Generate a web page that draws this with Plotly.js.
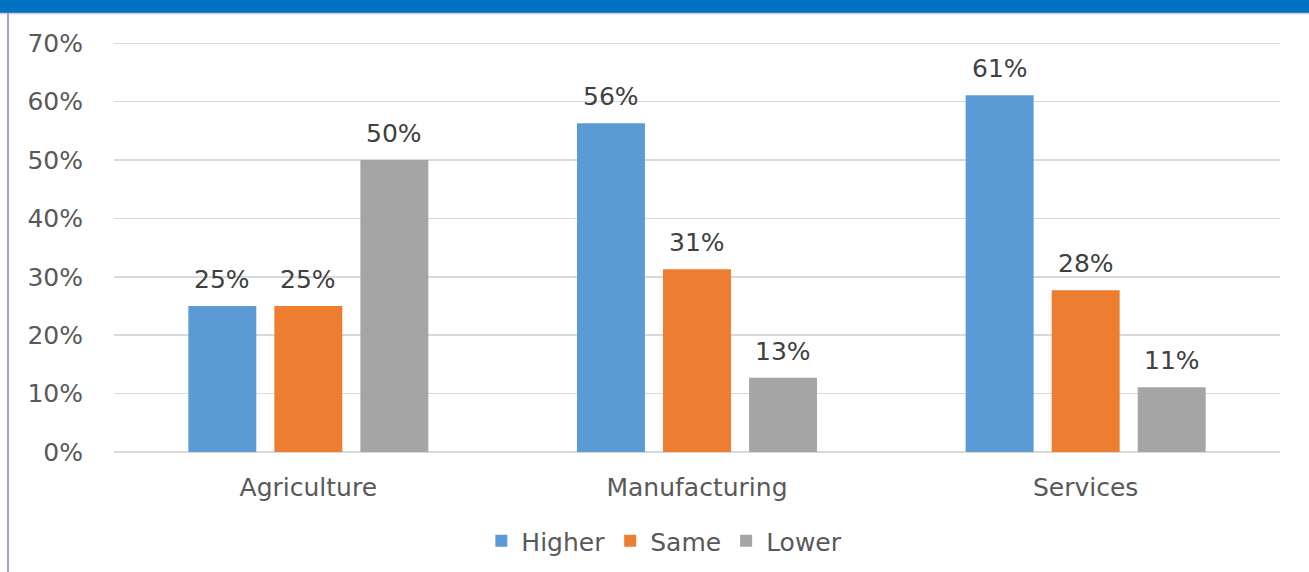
<!DOCTYPE html>
<html>
<head>
<meta charset="utf-8">
<script src="https://cdn.plot.ly/plotly-3.0.1.min.js"></script>
<style>
html,body{margin:0;padding:0;background:#fff;}
#chart{width:1309px;height:572px;}
</style>
</head>
<body>
<div id="chart"></div>
<script>
const categories = ["Agriculture", "Manufacturing", "Services"];
const seriesNames = ["Higher", "Same", "Lower"];
const higher = [0.25, 0.563, 0.611];
const same = [0.25, 0.313, 0.277];
const lower = [0.50, 0.127, 0.111];
const seriesColors = ["#5B9BD5", "#ED7D31", "#A5A5A5"];
const yTickVals = [0, 0.1, 0.2, 0.3, 0.4, 0.5, 0.6, 0.7];

const W = 1309, H = 572;
const ml = 114, mr = 29, mt = 43, mb = 120;
const pw = W - ml - mr, ph = H - mt - mb;
const px2x = p => (p - ml) / pw;
const py2y = p => (H - mb - p) / ph;

const FONT = "DejaVu Sans, Verdana, sans-serif";
const TXT = "#595959";

const seriesValues = [higher, same, lower];
const traces = seriesValues.map((vals, i) => ({
  type: "bar",
  name: seriesNames[i],
  x: categories,
  y: vals,
  marker: {color: seriesColors[i]},
  hoverinfo: "none"
}));

// data labels as annotations above each bar
const slot = (pw / categories.length) * (1 - 0.336) / 3;
const annotations = [];
seriesValues.forEach((vals, i) => {
  vals.forEach((v, j) => {
    annotations.push({
      x: categories[j], y: v, xref: "x", yref: "y",
      text: Math.round(v * 100) + "%",
      showarrow: false, yanchor: "bottom",
      xshift: (i - 1) * slot, yshift: 10,
      font: {family: FONT, size: 25, color: "#404040"}
    });
  });
});

const yMax = yTickVals[yTickVals.length - 1];
const shapes = [
  {type: "rect", xref: "paper", yref: "paper", x0: px2x(0), x1: px2x(W), y0: py2y(13), y1: py2y(0),
   fillcolor: "#0070C0", line: {width: 0}, layer: "above"},
  {type: "line", xref: "paper", yref: "paper", x0: px2x(0), x1: px2x(W), y0: py2y(13.5), y1: py2y(13.5),
   line: {color: "#C9CBE0", width: 1.5}},
  {type: "line", xref: "paper", yref: "paper", x0: px2x(8), x1: px2x(8), y0: py2y(13), y1: py2y(H),
   line: {color: "#7F86B8", width: 1.5}},
  {type: "line", xref: "paper", yref: "y", x0: 0, x1: 1, y0: yMax, y1: yMax,
   line: {color: "#D9D9D9", width: 1.5}, layer: "below"}
];

const layout = {
  width: W, height: H,
  margin: {l: ml, r: mr, t: mt, b: mb, pad: 0, autoexpand: false},
  paper_bgcolor: "#ffffff", plot_bgcolor: "#ffffff",
  barmode: "group", bargap: 0.336, bargroupgap: 0.21,
  font: {family: FONT, size: 25, color: TXT},
  showlegend: true,
  legend: {orientation: "h", x: 0.472, xanchor: "center", y: py2y(541), yanchor: "middle",
           font: {family: FONT, size: 25, color: TXT}, itemwidth: 30, traceorder: "normal"},
  xaxis: {type: "category", showgrid: false, zeroline: false, showline: false, automargin: false,
          ticks: "", ticklabelstandoff: 18, tickfont: {family: FONT, size: 25, color: TXT}},
  yaxis: {range: [0, 0.7004], tickvals: yTickVals, tickformat: ".0%", showgrid: true, automargin: false,
          gridcolor: "#D9D9D9", gridwidth: 1.5, zeroline: true, zerolinecolor: "#D9D9D9", zerolinewidth: 1.5,
          showline: false, ticks: "", ticklabelstandoff: 30,
          tickfont: {family: FONT, size: 25, color: TXT}},
  annotations: annotations,
  shapes: shapes
};

Plotly.newPlot("chart", traces, layout, {displayModeBar: false, staticPlot: true});
</script>
</body>
</html>
